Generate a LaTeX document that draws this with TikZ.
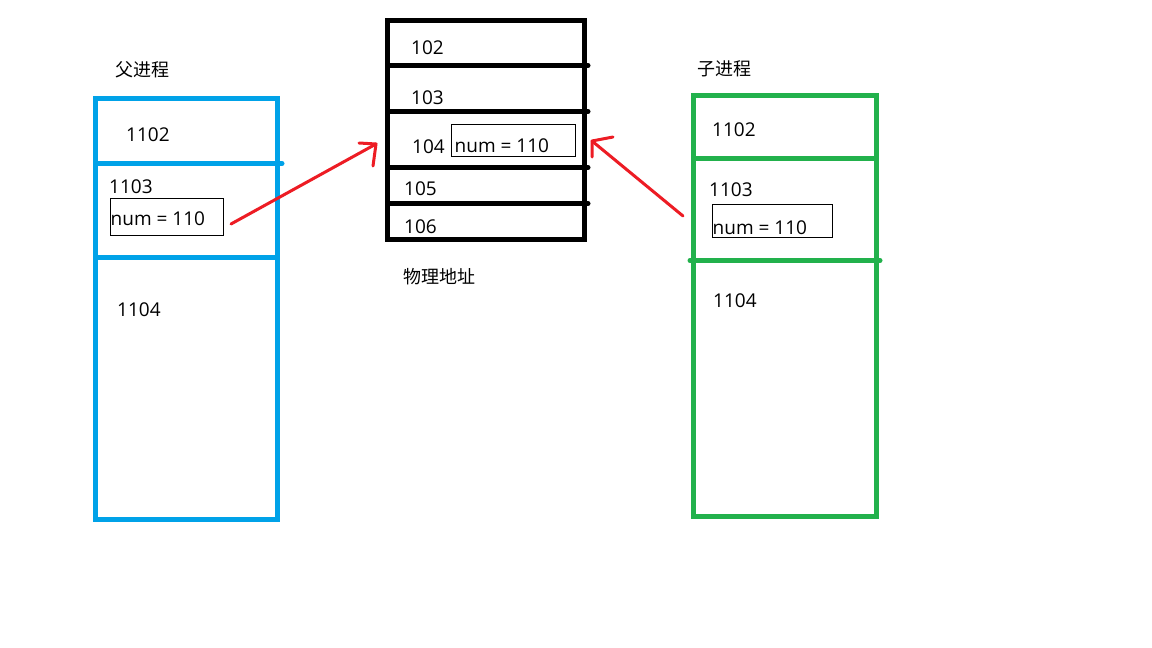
\documentclass[tikz,border=0pt]{standalone}
\usepackage{fontspec}
\setmainfont{Open Sans}
\newfontfamily\cjk{Noto Sans CJK SC}
\definecolor{pblue}{HTML}{00A2E8}
\definecolor{pgreen}{HTML}{22B14C}
\definecolor{pred}{HTML}{ED1C24}
\begin{document}
\begin{tikzpicture}[x=1pt,y=-1pt,
  lbl/.style={anchor=base west, inner sep=0pt, font=\fontsize{19}{19}\selectfont},
  cn/.style={anchor=base west, inner sep=0pt, font=\cjk\fontsize{18}{18}\selectfont},
  memline/.style={line width=5pt},
  divline/.style={line width=5pt, line cap=round},
  valbox/.style={draw=black, line width=1pt},
  redline/.style={draw=pred, line width=3pt, line cap=round, line join=round}]
\useasboundingbox[fill=white] (0,0) rectangle (1152,648);

% ---------- parent process (blue) ----------
\draw[memline, pblue] (95.5,98.5) rectangle (277.5,519.5);
\draw[divline, pblue] (95.5,163.5) -- (282,163.5);
\draw[memline, pblue] (95.5,257.5) -- (277.5,257.5);
\node[cn] (ptitle) at (115,76) {父进程};
\node[lbl] (p1102) at (126,141) {1102};
\node[lbl] (p1103) at (109,193) {1103};
\draw[valbox] (110.5,198.5) rectangle (223.5,235.5);
\node[lbl] (pnum) at (110.5,225) {num = 110};
\node[lbl] (p1104) at (117,316) {1104};

% ---------- physical memory (black) ----------
\draw[memline, black] (387.5,20.5) rectangle (584.5,239.5);
\foreach \yy in {65.5,111.5,167.5,203.5}
  \draw[divline, black] (387.5,\yy) -- (588,\yy);
\node[lbl] (m102) at (411,54) {102};
\node[lbl] (m103) at (411,104) {103};
\node[lbl] (m104) at (412,153) {104};
\draw[valbox] (451.5,124.5) rectangle (575.5,156.5);
\node[lbl] (mnum) at (454.5,152) {num = 110};
\node[lbl] (m105) at (404,195) {105};
\node[lbl] (m106) at (404,233) {106};
\node[cn] (mtitle) at (403,283) {物理地址};

% ---------- child process (green) ----------
\draw[memline, pgreen] (693.5,95.5) rectangle (876.5,516.5);
\draw[memline, pgreen] (693.5,158.5) -- (876.5,158.5);
\draw[divline, pgreen] (690,260.5) -- (880,260.5);
\node[cn] (ctitle) at (697,75) {子进程};
\node[lbl] (c1102) at (712,136) {1102};
\node[lbl] (c1103) at (709,196) {1103};
\draw[valbox] (712.5,204.5) rectangle (832.5,237.5);
\node[lbl] (cnum) at (712.5,234) {num = 110};
\node[lbl] (c1104) at (713,307) {1104};

% ---------- red arrows ----------
\coordinate (a1s) at (231,224);
\coordinate (a1t) at (376,144);
\coordinate (a2s) at (683,216);
\coordinate (a2t) at (592,141);
\draw[redline] (a1s) -- (a1t);
\draw[redline] ([xshift=-17pt,yshift=1pt]a1t) -- (a1t) -- ([xshift=-3pt,yshift=-22pt]a1t);
\draw[redline] (a2s) -- (a2t);
\draw[redline] ([xshift=21pt,yshift=4pt]a2t) -- (a2t) -- ([xshift=0pt,yshift=-16pt]a2t);
\end{tikzpicture}
\end{document}
